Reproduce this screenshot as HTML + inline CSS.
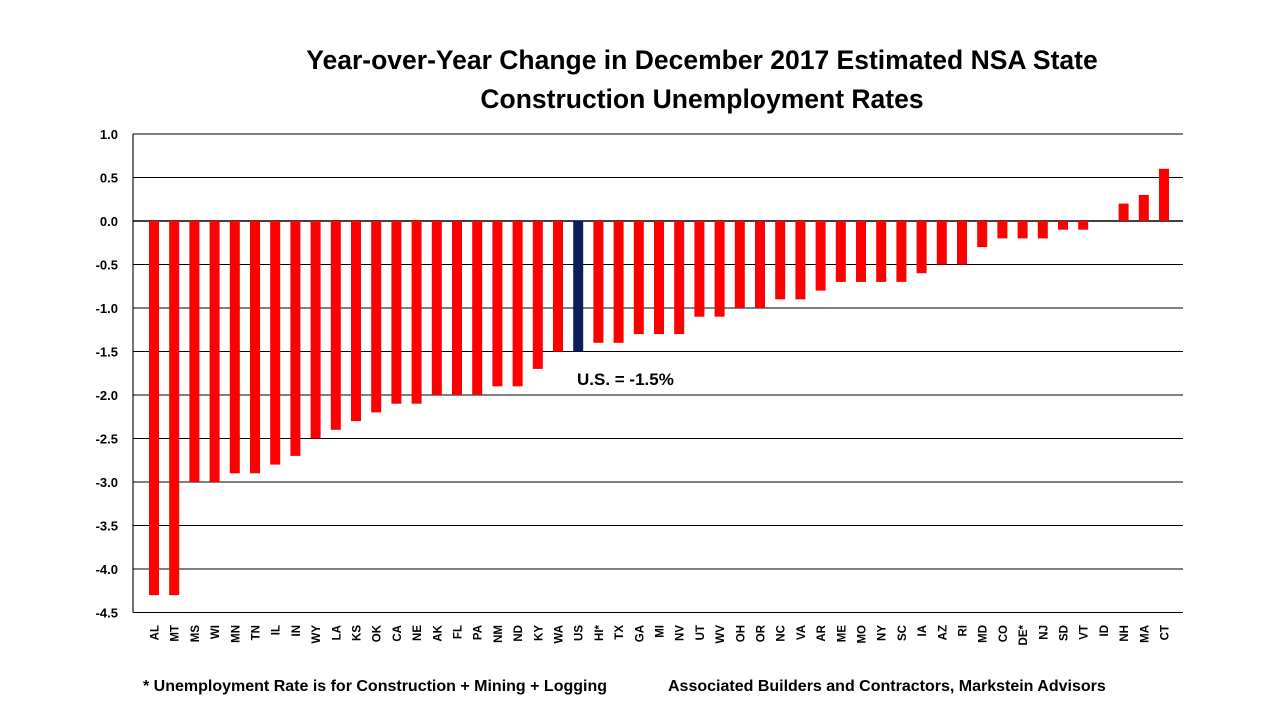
<!DOCTYPE html><html><head><meta charset="utf-8"><style>body{margin:0;background:#fff}svg{display:block}</style></head><body>
<svg width="1280" height="720" xmlns="http://www.w3.org/2000/svg" font-family="Liberation Sans, Arial, sans-serif">
<text x="702" y="69" text-anchor="middle" font-size="26.5" font-weight="bold">Year-over-Year Change in December 2017 Estimated NSA State</text>
<text x="702" y="108" text-anchor="middle" font-size="26.5" font-weight="bold">Construction Unemployment Rates</text>
<g id="grid"></g>
<g id="bars"></g>
<text x="577" y="385" font-size="17" font-weight="bold">U.S. = -1.5%</text>
<text x="143" y="691" font-size="16" font-weight="bold">* Unemployment Rate is for Construction + Mining + Logging</text>
<text x="668" y="691" font-size="16" font-weight="bold">Associated Builders and Contractors, Markstein Advisors</text>
<script>
var g=document.getElementById('grid'),b=document.getElementById('bars');var NS='http://www.w3.org/2000/svg';
function el(p,t,a,txt){var e=document.createElementNS(NS,t);for(var k in a)e.setAttribute(k,a[k]);if(txt!=null)e.textContent=txt;p.appendChild(e);return e;}
function Y(v){return 221-v*87;}
for(var i=0;i<=11;i++){var v=1-i*0.5;var y=Y(v);el(g,'line',{x1:133,x2:1183,y1:y,y2:y,stroke:'#000','stroke-width':(v==0?1.6:1.1)});el(g,'text',{x:118,y:y+5,'text-anchor':'end','font-size':13,'font-weight':'bold'},v.toFixed(1));}
el(g,'line',{x1:133,x2:133,y1:Y(1),y2:Y(-4.5),stroke:'#000','stroke-width':1.1});
var d=[["AL",-4.3],["MT",-4.3],["MS",-3],["WI",-3],["MN",-2.9],["TN",-2.9],["IL",-2.8],["IN",-2.7],["WY",-2.5],["LA",-2.4],["KS",-2.3],["OK",-2.2],["CA",-2.1],["NE",-2.1],["AK",-2],["FL",-2],["PA",-2],["NM",-1.9],["ND",-1.9],["KY",-1.7],["WA",-1.5],["US",-1.5],["HI*",-1.4],["TX",-1.4],["GA",-1.3],["MI",-1.3],["NV",-1.3],["UT",-1.1],["WV",-1.1],["OH",-1],["OR",-1],["NC",-0.9],["VA",-0.9],["AR",-0.8],["ME",-0.7],["MO",-0.7],["NY",-0.7],["SC",-0.7],["IA",-0.6],["AZ",-0.5],["RI",-0.5],["MD",-0.3],["CO",-0.2],["DE*",-0.2],["NJ",-0.2],["SD",-0.1],["VT",-0.1],["ID",0],["NH",0.2],["MA",0.3],["CT",0.6]];
d.forEach(function(r,i){var cx=154+20.2*i;var y0=Y(0),y1=Y(r[1]);
if(r[1]!=0)el(b,'rect',{x:cx-5,y:Math.min(y0,y1),width:10,height:Math.abs(y1-y0),fill:r[0]=='US'?'#0a1f5c':'#ff0000'});
el(b,'text',{transform:'translate('+(cx+4.5)+',625) rotate(-90)','text-anchor':'end','font-size':11.5,'font-weight':'bold'},r[0]);});
</script>
</svg></body></html>
